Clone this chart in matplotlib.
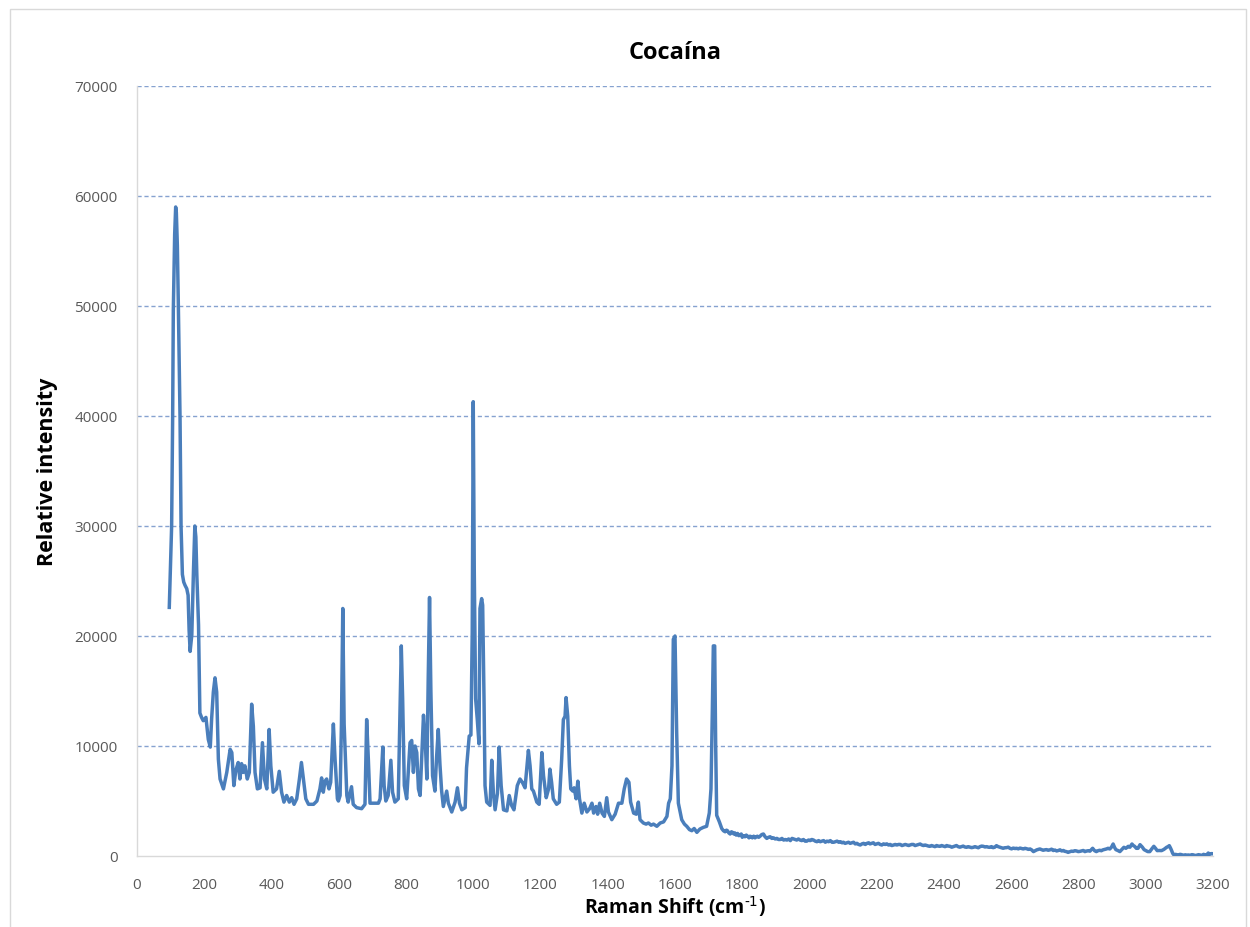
import matplotlib
matplotlib.use("Agg")
import matplotlib.pyplot as plt
from matplotlib.patches import Rectangle

# Raman spectrum of cocaine as (shift in cm-1, relative intensity) pairs,
# split by spectral region.
low_region = [
    (96, 22600), (103, 30000), (106, 39800), (108, 49600), (112, 56500), (115, 59000),
    (117, 58500), (120, 55500), (123, 50000), (128, 39800), (131, 30000), (135, 25600),
    (139, 24900), (143, 24600), (148, 24300), (152, 23700), (155, 20500), (158, 18600),
    (163, 20100), (168, 26000), (172, 30000), (175, 29000), (178, 25500), (183, 21000),
    (187, 13000), (192, 12600), (197, 12300), (205, 12600), (212, 10600), (218, 9900),
    (222, 12500), (227, 14900), (232, 16200), (237, 14900), (242, 8800), (247, 7000),
    (257, 6100), (267, 7600), (277, 9700), (282, 9400), (288, 6400), (294, 7800),
    (301, 8500), (306, 7000), (311, 8400), (316, 7600), (321, 8200), (328, 7000),
    (334, 7600), (341, 13800), (346, 11800), (351, 7600), (358, 6100), (366, 6200),
    (373, 10300), (379, 7000), (386, 6100), (393, 11500), (398, 8200), (405, 5800),
    (415, 6100), (423, 7700), (430, 5800), (437, 4900), (445, 5500), (453, 4900),
    (460, 5300), (467, 4700), (475, 5200), (483, 7000), (489, 8500), (495, 7000),
    (502, 5200), (510, 4700), (525, 4700), (535, 5000), (544, 6100), (549, 7100),
    (554, 5800), (559, 6800), (564, 7000), (571, 6100), (576, 6700), (584, 12000),
    (589, 8800), (596, 5200),
]
fingerprint_region = [
    (599, 5000), (604, 5500), (608, 12000), (612, 22500), (616, 12000), (624, 5500),
    (628, 4900), (638, 6300), (643, 4700), (653, 4400), (668, 4300), (678, 4700),
    (683, 12400), (688, 8800), (693, 4800), (703, 4800), (718, 4800), (723, 5200),
    (731, 9900), (735, 6400), (740, 5000), (747, 5500), (755, 8700), (760, 5800),
    (767, 4900), (777, 5200), (782, 12800), (786, 19100), (790, 14300), (795, 6400),
    (802, 5200), (812, 10300), (817, 10500), (822, 7600), (827, 10000), (832, 9400),
    (837, 6100), (842, 5500), (852, 12800), (857, 10600), (862, 7000), (866, 16000),
    (870, 23500), (874, 15000), (879, 7300), (886, 5900), (891, 9000), (896, 11500),
    (901, 8300), (906, 5900), (911, 4500), (921, 5900), (926, 4800), (936, 4000),
    (946, 4900), (953, 6200), (959, 4800), (966, 4200), (976, 4400), (980, 8000),
    (988, 10900), (993, 11000), (997, 20300), (1000, 41300), (1003, 26000), (1007, 14300),
    (1012, 12400), (1017, 10200), (1020, 22500), (1025, 23400), (1028, 22800), (1032, 14300),
    (1035, 6400), (1040, 4900), (1050, 4600), (1055, 8700), (1060, 5700), (1065, 4200),
    (1072, 5700), (1077, 9900), (1083, 6400), (1090, 4200), (1100, 4100), (1107, 5500),
    (1114, 4600), (1121, 4200), (1131, 6400), (1139, 7000), (1146, 6700), (1154, 6200),
    (1164, 9600), (1169, 8200), (1174, 6100), (1179, 5900), (1189, 4900), (1196, 4700),
    (1204, 9400), (1209, 7300), (1217, 5300), (1224, 6100), (1228, 7900), (1233, 6700),
    (1238, 5200), (1248, 4700), (1256, 4900), (1263, 8800), (1268, 12400), (1273, 12700),
    (1276, 14400), (1281, 12700), (1286, 8200), (1290, 6100), (1296, 5900), (1300, 6200),
    (1306, 5200), (1311, 6800), (1316, 5200), (1323, 3900), (1330, 4800), (1338, 4000),
    (1346, 4300), (1353, 4800), (1358, 3900), (1365, 4500), (1370, 3800), (1376, 4800),
    (1383, 3900), (1390, 3600), (1397, 5300), (1402, 4000), (1412, 3300), (1422, 3800),
    (1432, 4800), (1442, 4800), (1449, 6100), (1456, 7000), (1463, 6700), (1468, 4900),
    (1477, 3900), (1485, 3800), (1491, 4900),
]
carbonyl_region = [
    (1496, 3300), (1506, 3000), (1514, 2900), (1521, 3000), (1529, 2800), (1536, 2900),
    (1546, 2700), (1556, 3000), (1566, 3100), (1576, 3600), (1581, 4800), (1586, 5200),
    (1591, 8200), (1595, 19700), (1600, 20000), (1605, 11200), (1610, 4800), (1620, 3300),
    (1628, 2900), (1635, 2700), (1643, 2400), (1650, 2300), (1657, 2500), (1665, 2150),
    (1674, 2450), (1684, 2600), (1694, 2700), (1702, 3900), (1707, 6100), (1711, 13100),
    (1714, 19100), (1718, 19100), (1721, 10000), (1724, 3700), (1732, 3100), (1739, 2500),
]
high_region = [
    (1744, 2300), (1749, 2200), (1753, 2350), (1756, 2300), (1760, 2100), (1764, 2000),
    (1768, 2200), (1771, 2150), (1775, 2000), (1778, 2100), (1782, 1900), (1786, 2050),
    (1790, 1850), (1793, 1900), (1797, 2000), (1800, 1700), (1804, 1850), (1808, 1750),
    (1812, 1900), (1816, 1800), (1820, 1650), (1823, 1800), (1827, 1750), (1830, 1650),
    (1834, 1800), (1838, 1650), (1842, 1750), (1845, 1800), (1849, 1700), (1853, 1800),
    (1858, 1950), (1863, 2000), (1868, 1750), (1873, 1600), (1878, 1700), (1883, 1750),
    (1888, 1600), (1893, 1650), (1898, 1550), (1903, 1600), (1908, 1500), (1913, 1500),
    (1918, 1600), (1923, 1450), (1928, 1500), (1933, 1450), (1938, 1550), (1943, 1400),
    (1948, 1600), (1953, 1550), (1958, 1500), (1962, 1450), (1967, 1550), (1972, 1450),
    (1977, 1400), (1982, 1500), (1987, 1350), (1992, 1350), (1997, 1450), (2002, 1400),
    (2007, 1500), (2012, 1450), (2017, 1350), (2022, 1300), (2027, 1400), (2032, 1300),
    (2037, 1350), (2042, 1400), (2047, 1250), (2052, 1350), (2057, 1300), (2062, 1400),
    (2067, 1250), (2072, 1250), (2077, 1300), (2082, 1350), (2087, 1250), (2092, 1300),
    (2097, 1200), (2101, 1250), (2106, 1150), (2111, 1200), (2116, 1250), (2121, 1150),
    (2126, 1200), (2131, 1250), (2136, 1100), (2141, 1150), (2146, 1050), (2151, 1000),
    (2156, 1100), (2161, 1150), (2166, 1050), (2171, 1150), (2176, 1200), (2180, 1100),
    (2185, 1150), (2190, 1200), (2195, 1050), (2200, 1100), (2205, 1150), (2210, 1050),
    (2215, 1000), (2220, 1100), (2225, 1050), (2230, 1100), (2235, 1000), (2240, 1050),
    (2245, 950), (2250, 1000), (2255, 1050), (2260, 1000), (2265, 1050), (2270, 1050),
    (2275, 950), (2280, 1000), (2285, 1050), (2290, 1000), (2295, 950), (2299, 1000),
    (2304, 1050), (2309, 1050), (2314, 950), (2319, 1000), (2324, 1050), (2329, 1090),
    (2334, 1000), (2339, 950), (2344, 1000), (2349, 950), (2354, 900), (2358, 880),
    (2363, 950), (2368, 900), (2373, 850), (2378, 950), (2383, 900), (2388, 880),
    (2393, 950), (2398, 900), (2403, 850), (2408, 950), (2413, 900), (2418, 880),
    (2423, 800), (2428, 850), (2433, 900), (2437, 950), (2442, 850), (2447, 800),
    (2452, 850), (2457, 900), (2462, 820), (2467, 790), (2472, 850), (2477, 800),
    (2482, 760), (2487, 790), (2492, 850), (2497, 800), (2502, 750), (2507, 850),
    (2512, 900), (2517, 880), (2522, 820), (2527, 850), (2532, 800), (2536, 790),
    (2541, 850), (2546, 760), (2551, 800), (2556, 940), (2561, 850), (2566, 800),
    (2571, 760), (2576, 700), (2581, 750), (2586, 760), (2591, 800), (2596, 700),
    (2601, 650), (2606, 720), (2611, 680), (2616, 700), (2621, 650), (2626, 720),
    (2631, 680), (2636, 640), (2641, 700), (2646, 660), (2651, 600), (2656, 640),
    (2661, 550), (2666, 400), (2671, 480), (2676, 560), (2681, 600), (2685, 640),
    (2690, 580), (2695, 520), (2700, 560), (2705, 580), (2710, 520), (2715, 560),
    (2720, 620), (2725, 500), (2730, 540), (2735, 460), (2740, 500), (2745, 560),
    (2750, 460), (2755, 500), (2760, 420), (2764, 400), (2769, 330), (2774, 380),
    (2779, 440), (2784, 420), (2789, 480), (2794, 460), (2799, 400), (2804, 420),
    (2809, 460), (2814, 500), (2819, 400), (2824, 450), (2829, 480), (2834, 440),
    (2842, 700), (2848, 480), (2853, 400), (2858, 480), (2863, 520), (2868, 480),
    (2873, 560), (2878, 600), (2883, 640), (2888, 700), (2893, 640), (2898, 800),
    (2903, 1090), (2907, 800), (2911, 580), (2917, 500), (2923, 400), (2929, 600),
    (2935, 790), (2941, 700), (2948, 880), (2953, 800), (2959, 1090), (2963, 950),
    (2967, 880), (2972, 700), (2977, 700), (2983, 1030), (2990, 800), (2995, 580),
    (3000, 500), (3006, 400), (3012, 400), (3018, 650), (3024, 880), (3029, 700),
    (3034, 490), (3040, 500), (3047, 490), (3054, 600), (3062, 790), (3066, 850),
    (3070, 940), (3074, 700), (3077, 490), (3080, 250), (3084, 90), (3088, 150),
    (3093, 120), (3097, 90), (3102, 150), (3107, 120), (3112, 30), (3117, 110),
    (3122, 80), (3127, 90), (3132, 60), (3137, 120), (3142, 100), (3147, 30),
    (3152, 80), (3157, 120), (3162, 90), (3167, 60), (3172, 150), (3177, 90),
    (3182, 130), (3186, 270), (3190, 150), (3196, 220), (3200, 200),
]

x_ticks = list(range(0, 3201, 200))
y_ticks = list(range(0, 70001, 10000))

spectrum = low_region + fingerprint_region + carbonyl_region + high_region
shift = [p[0] for p in spectrum]
intensity = [p[1] for p in spectrum]

LINE_BLUE = "#4a7ebb"
GRID_BLUE = "#86a2d0"
TEXT_GREY = "#595959"
FONT = ["Open Sans", "DejaVu Sans"]

fig = plt.figure(figsize=(12.5, 9.28), dpi=100)
fig.patch.set_facecolor("white")
fig.patches.append(Rectangle((10 / 1250, -0.01), 1236 / 1250, (918 + 9.28) / 928,
                             transform=fig.transFigure, fill=False,
                             edgecolor="#d9d9d9", linewidth=1.0))

ax = fig.add_axes([137 / 1250, 71 / 928, 1076 / 1250, 770 / 928])
ax.plot(shift, intensity, color=LINE_BLUE, linewidth=2.5, solid_joinstyle="round", zorder=3)

ax.set_xlim(0, 3200)
ax.set_ylim(0, 70000)
ax.set_xticks(x_ticks)
ax.set_yticks(y_ticks)
ax.set_xticklabels([str(v) for v in x_ticks], fontsize=11, color=TEXT_GREY, family=FONT)
ax.set_yticklabels([str(v) for v in y_ticks], fontsize=11, color=TEXT_GREY, family=FONT)
ax.tick_params(axis="both", length=0)
ax.tick_params(axis="x", pad=15)
ax.tick_params(axis="y", pad=14)

for v in y_ticks[1:]:
    ax.axhline(v, color=GRID_BLUE, linewidth=1.0, linestyle=(0, (3, 2)), zorder=1)

for side in ("top", "right"):
    ax.spines[side].set_visible(False)
ax.spines["left"].set_color("#d9d9d9")
ax.spines["bottom"].set_color("#d9d9d9")
ax.spines["left"].set_linewidth(1.0)
ax.spines["bottom"].set_linewidth(1.0)

ax.set_title("Cocaína", fontsize=17, fontweight="bold", family=FONT, pad=20)
ax.set_xlabel(r"Raman Shift (cm$^{\text{-1}}$)", fontsize=14, fontweight="bold", family=FONT, labelpad=1)
ax.set_ylabel("Relative intensity", fontsize=15.5, fontweight="bold", family=FONT, labelpad=12)

fig.savefig("out.png", dpi=100, facecolor="white")
